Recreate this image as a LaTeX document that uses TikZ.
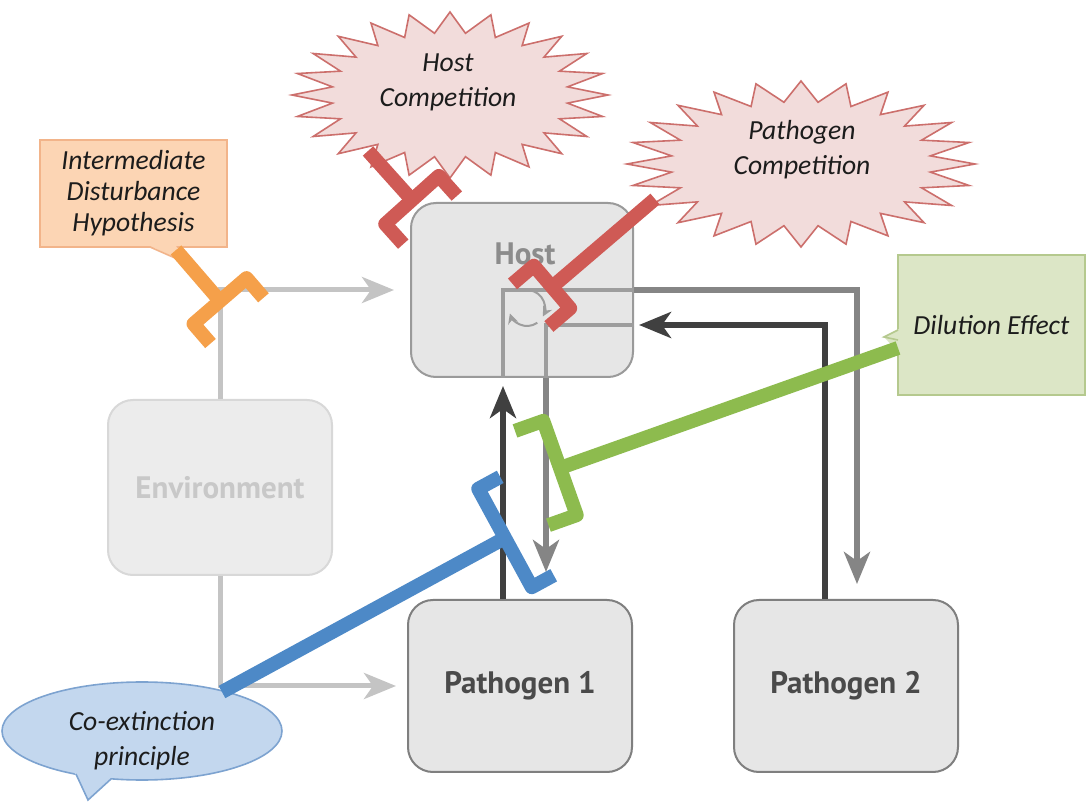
\documentclass[tikz,border=0pt]{standalone}
\usepackage{fontspec}
\setmainfont{Carlito}
\newfontfamily\boxfont{PT Sans}
\usetikzlibrary{arrows.meta,calc,shapes.geometric}

\definecolor{darkarr}{HTML}{404040}
\definecolor{medarr}{HTML}{858585}
\definecolor{lightarr}{HTML}{C4C4C4}
\definecolor{innerarr}{HTML}{9D9D9D}
\definecolor{boxfill}{HTML}{E6E6E6}
\definecolor{boxline}{HTML}{7F7F7F}
\definecolor{boxtext}{HTML}{4A4A4A}
\definecolor{hostline}{HTML}{9A9A9A}
\definecolor{hosttext}{HTML}{8C8C8C}
\definecolor{envfill}{HTML}{ECECEC}
\definecolor{envline}{HTML}{D8D8D8}
\definecolor{envtext}{HTML}{C8C8C8}
\definecolor{idhfill}{HTML}{FCD5B4}
\definecolor{idhline}{HTML}{F2B48A}
\definecolor{idhbrk}{HTML}{F5A04A}
\definecolor{compfill}{HTML}{F2DCDB}
\definecolor{compline}{HTML}{CC6F6C}
\definecolor{compbrk}{HTML}{CF5A55}
\definecolor{dilfill}{HTML}{DCE6C6}
\definecolor{dilline}{HTML}{B5C98E}
\definecolor{dilbrk}{HTML}{8DBB4E}
\definecolor{coxfill}{HTML}{C3D7EE}
\definecolor{coxline}{HTML}{7DA3D0}
\definecolor{coxbrk}{HTML}{4D89C7}
\definecolor{txt}{HTML}{1C1C1C}

\newcommand\inhib[5]{%
  \draw[brk,#1] (#2) -- (#3);
  \coordinate (bA) at ($(#3)!#4!90:(#2)$);
  \coordinate (bB) at ($(#3)!#4!-90:(#2)$);
  \coordinate (bQ) at ($(#3)!-#5!(#2)$);
  \draw[brk,#1] ($(bA)+(bQ)-(#3)$) -- (bA) -- (bB) -- ($(bB)+(bQ)-(#3)$);
}
\newcommand\starb[4]{%
  \filldraw[starstyle] plot[domain=0:47, samples=48, variable=\k]
   ({#1+#3*ifthenelse(mod(round(\k),2)==0,1,0.75)*cos(\k*7.5)},
    {#2+#4*ifthenelse(mod(round(\k),2)==0,1,0.75)*sin(\k*7.5)}) -- cycle;
}

\begin{document}
\begin{tikzpicture}[x=0.5pt,y=-0.5pt,
  gbox/.style={draw=boxline, line width=1pt, fill=boxfill, rounded corners=12.5pt,
    minimum width=112pt, minimum height=86pt, inner sep=0pt,
    font=\boxfont\bfseries\fontsize{15.5pt}{18pt}\selectfont, text=boxtext},
  hostbox/.style={gbox, draw=hostline, minimum width=111pt, minimum height=87pt},
  envbox/.style={gbox, draw=envline, fill=envfill, text=envtext, minimum height=87.5pt},
  calltxt/.style={font=\itshape\fontsize{13.8pt}{17.5pt}\selectfont, text=txt, align=center, inner sep=0pt},
  callrect/.style={calltxt, line width=0.8pt, inner sep=0pt},
  starstyle/.style={fill=compfill, draw=compline, line width=0.8pt, line join=miter},
  arrtip/.style={-{Stealth[length=16pt,width=13pt,inset=4.5pt]}},
  envarr/.style={arrtip, draw=lightarr, line width=2.5pt},
  darkc/.style={arrtip, draw=darkarr, line width=3pt},
  medc/.style={arrtip, draw=medarr, line width=3pt},
  inner/.style={draw=innerarr, line width=2pt},
  loop/.style={draw=innerarr, line width=1pt, -{Stealth[length=5pt,width=5pt]}},
  brk/.style={line width=7pt, line join=round, line cap=butt},
]
\fill[white] (0,0) rectangle (1089,802);
\useasboundingbox (0,0) rectangle (1089,802);

% boxes
\node[hostbox] (host) at (522,290) {};
\node[envbox] (env) at (220,487.5) {Environment};
\node[gbox] (p1) at (520,686) {Pathogen 1};
\node[gbox] (p2) at (846,686) {Pathogen 2};

% environment connectors
\draw[envarr, shorten >=8pt] (env.north) |- (host.west);
\draw[envarr, shorten >=5.5pt] (env.south) |- (p1.west);

% pathogen / host connectors
\coordinate (p1L) at ([xshift=-8.5pt]p1.north);
\coordinate (p1R) at ([xshift=13pt]p1.north);
\coordinate (p2L) at ([xshift=-10.5pt]p2.north);
\coordinate (p2R) at ([xshift=5.5pt]p2.north);
\coordinate (hostE2) at ([yshift=-17.5pt]host.east);
\draw[darkc, shorten >=4pt] (p1L) -- (p1L |- host.south);
\draw[darkc, shorten >=2.5pt] (p2L) |- (hostE2);
\draw[medc, shorten >=7.5pt] (host.east) -| (p2R);
\draw[medc, shorten >=13.5pt] (p1R |- host.south) -- (p1R);

% lines seen through the host box
\draw[inner] (p1L |- host.south) -- (p1L |- host.east) -- (host.east);
\draw[inner] (hostE2) -- (p1R |- hostE2) -- (p1R |- host.south);
\coordinate (loopc) at (527,308);
\draw[loop] ($(loopc)+(82:9pt)$) arc[start angle=82, end angle=-28, radius=9pt];
\draw[loop] ($(loopc)+(-55:9pt)$) arc[start angle=-55, end angle=-162, radius=9pt];
\node[font=\boxfont\bfseries\fontsize{15.5pt}{18pt}\selectfont, text=hosttext, inner sep=0pt] (hostt) at (525,254) {Host};

% Host competition
\starb{450}{95}{158}{83}
\node[calltxt] (hcomp) at (448,82) {Host\\Competition};
% Pathogen competition
\starb{801}{164}{174}{83}
\node[calltxt] (pcomp) at (802,150) {Pathogen\\Competition};

% IDH
\node[callrect, fill=idhfill, draw=idhline, minimum width=93.5pt, minimum height=53.5pt,
  font=\itshape\fontsize{13.8pt}{15.5pt}\selectfont] (idh) at (133.5,193.5) {Intermediate\\Disturbance\\Hypothesis};
\fill[idhfill] (150,246) -- (184,262) -- (176,246) -- cycle;
\draw[idhline, line width=0.8pt] (150,247) -- (184,262);

% Dilution
\node[callrect, fill=dilfill, draw=dilline, minimum width=93.5pt, minimum height=70pt] (dil) at (991.5,325) {Dilution Effect};
\fill[dilfill] (899,329) -- (884,337) -- (899,353) -- cycle;
\draw[dilline, line width=0.8pt] (898,330) -- (884,337) -- (898,340);

% Co-extinction
\node[ellipse, fill=coxfill, draw=coxline, line width=0.8pt, minimum width=140pt, minimum height=49pt, inner sep=0pt] (cox) at (142,731) {};
\fill[coxfill] (73,770) -- (88,800) -- (114,775) -- cycle;
\draw[coxline, line width=0.8pt] (76,774) -- (88,800) -- (111,779);
\node[calltxt] (coxt) at (142,741) {Co-extinction\\principle};

% inhibition brackets
\coordinate (idhs) at (176,250);
\coordinate (idhj) at (220,301);
\inhib{draw=idhbrk}{idhs}{idhj}{17.5pt}{13pt}
\coordinate (hcs) at (368,151);
\coordinate (hcj) at (412,200);
\inhib{draw=compbrk}{hcs}{hcj}{18pt}{13.5pt}
\coordinate (pcs) at (655,199);
\coordinate (pcj) at (552,287);
\inhib{draw=compbrk}{pcs}{pcj}{14pt}{14pt}
\coordinate (dils) at (898,348);
\coordinate (dilj) at (560,468);
\inhib{draw=dilbrk}{dils}{dilj}{25pt}{15pt}
\coordinate (coxs) at (222,692);
\coordinate (coxj) at (505,538);
\inhib{draw=coxbrk}{coxs}{coxj}{28pt}{12.5pt}
\end{tikzpicture}
\end{document}
